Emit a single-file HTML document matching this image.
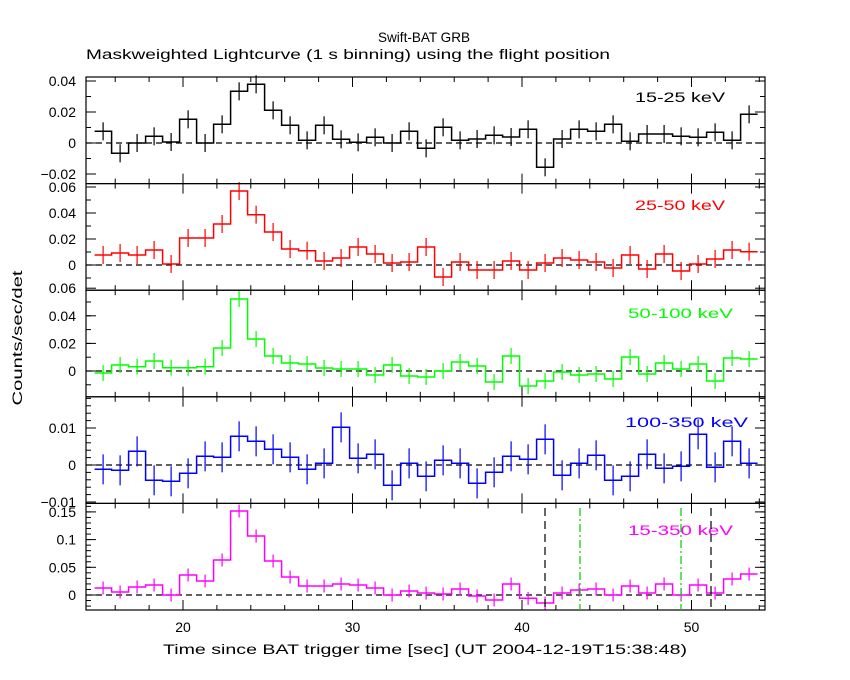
<!DOCTYPE html>
<html><head><meta charset="utf-8">
<style>
html,body{margin:0;padding:0;background:#fff;}
svg{display:block;font-family:"Liberation Sans",sans-serif;}
</style></head>
<body>
<svg id="s" width="850" height="680" xmlns="http://www.w3.org/2000/svg">
<rect width="850" height="680" fill="#fff"/>
<text x="378" y="42" font-size="14" textLength="92" lengthAdjust="spacingAndGlyphs">Swift-BAT GRB</text>
<text x="86" y="59" font-size="14" textLength="524" lengthAdjust="spacingAndGlyphs">Maskweighted Lightcurve (1 s binning) using the flight position</text>
<text x="22" y="338" font-size="14" text-anchor="middle" transform="rotate(-90 22 338)" textLength="135" lengthAdjust="spacingAndGlyphs">Counts/sec/det</text>
<text x="163" y="654" font-size="14" textLength="524" lengthAdjust="spacingAndGlyphs">Time since BAT trigger time [sec] (UT 2004-12-19T15:38:48)</text>
</svg>
<script>
const S=document.getElementById('s');const NS='http://www.w3.org/2000/svg';
function el(t,a,txt){const e=document.createElementNS(NS,t);for(const k in a)e.setAttribute(k,a[k]);if(txt!==undefined)e.textContent=txt;S.appendChild(e);return e;}
const L=86,R=765;
const tops=[77,183.6,290.2,396.8,503.4,610];
const xOf=t=>183+(t-20)*16.95;
const panels=[
 {col:'#000',zero:143,err:9,lab:'15-25 keV',lx:635,ly:102,lw:90,
  v:[184,250,219,199,216,148,219,163,64,43,121,166,211,166,208,217,202,219,184,235,172,211,207,196,201,178,292,207,178,184,163,214,192,192,199,202,187,211,133],zz:219,
  ticks:{px:15.5,min:-0.02,max:0.045,labs:[[0.04,'0.04'],[0.02,'0.02'],[0,'0'],[-0.02,'\u22120.02']],per:0.01}},
 {col:'#f00',zero:265,err:9,lab:'25-50 keV',lx:635,ly:210,lw:90,
  v:[226,220,226,211,253,175,175,133,34,105,157,208,213,244,235,202,223,250,247,202,292,247,271,271,244,271,250,235,241,247,265,226,268,223,274,253,238,211,216],zz:256,
  ticks:{per:0.01,px:13,min:-0.01,max:0.065,labs:[[0.06,'0.06'],[0.04,'0.04'],[0.02,'0.02'],[0,'0']]}},
 {col:'#0f0',zero:371,err:8,lab:'50-100 keV',lx:628,ly:318,lw:105,
  v:[262,238,243,226,246,246,243,187,40,160,211,232,235,247,250,250,268,238,271,274,256,229,241,289,211,301,286,259,268,265,280,214,265,232,250,235,286,217,220],zz:256,
  ticks:{per:0.01,px:13.8,min:-0.01,max:0.06,labs:[[0.06,'0.06'],[0.04,'0.04'],[0.02,'0.02'],[0,'0']]}},
 {col:'#00f',zero:465,err:15,lab:'100-350 keV',lx:625,ly:427,lw:123,
  v:[229,232,175,262,265,241,190,193,130,145,169,193,229,211,103,196,184,277,211,250,202,211,271,238,190,199,139,247,211,187,262,250,184,226,220,124,223,145,211],zz:216,
  ticks:{per:0.002,px:7.4,min:-0.01,max:0.0185,labs:[[0.01,'0.01'],[0,'0'],[-0.01,'\u22120.01']]}},
 {col:'#f0f',zero:595,err:6.5,lab:'15-350 keV',lx:628,ly:535,lw:105,
  v:[265,277,262,256,286,226,244,181,34,109,184,232,259,259,253,256,265,286,274,280,283,268,289,301,253,296,310,280,271,268,286,259,280,253,286,256,280,238,223],zz:286,
  ticks:{per:0.01,px:5.54,min:-0.02,max:0.16,labs:[[0.15,'0.15'],[0.1,'0.1'],[0.05,'0.05'],[0,'0']]}}
];
panels.forEach((p,i)=>{
 const top=tops[i],bot=tops[i+1];
 el('line',{x1:L,x2:R,y1:p.zero,y2:p.zero,stroke:'#000','stroke-width':1.2,'stroke-dasharray':'6,4'});
 let d='';const w=17.0,x0=94.6;
 p.v.forEach((zy,j)=>{const y=p.zero+(zy-p.zz)/3;const xa=x0+w*j,xb=xa+w;
  d+=(j==0?'M':'L')+xa.toFixed(1)+' '+y.toFixed(1)+' L'+xb.toFixed(1)+' '+y.toFixed(1)+' ';
  const xc=xa+w/2;el('line',{x1:xc,x2:xc,y1:y-p.err,y2:y+p.err,stroke:p.col,'stroke-width':1.2});});
 el('path',{d:d,fill:'none',stroke:p.col,'stroke-width':1.5});
 const t=p.ticks;const n0=Math.ceil(t.min/t.per-1e-6),n1=Math.floor(t.max/t.per+1e-6);
 for(let k=n0;k<=n1;k++){const y=p.zero-k*t.px;if(y<top-0.5||y>bot+0.5)continue;
  el('line',{x1:L,x2:L+5,y1:y,y2:y,stroke:'#000'});el('line',{x1:R,x2:R-5,y1:y,y2:y,stroke:'#000'});}
 t.labs.forEach(([v,s])=>{const y=p.zero-v/t.per*t.px;
  el('line',{x1:L,x2:L+10,y1:y,y2:y,stroke:'#000'});el('line',{x1:R,x2:R-10,y1:y,y2:y,stroke:'#000'});
  el('text',{x:76,y:y+5,'font-size':14,'text-anchor':'end'},s);});
 for(let tt=16;tt<=54;tt+=2){const x=xOf(tt);const big=(tt%10==0)?10:5;
  el('line',{x1:x,x2:x,y1:top,y2:top+big,stroke:'#000'});el('line',{x1:x,x2:x,y1:bot,y2:bot-big,stroke:'#000'});}
 el('text',{x:p.lx,y:p.ly,'font-size':14,fill:p.col,textLength:p.lw,lengthAdjust:'spacingAndGlyphs'},p.lab);
 el('rect',{x:L,y:top,width:R-L,height:bot-top,fill:'none',stroke:'#000','stroke-width':1.2});
});
[[545,'#000','8,5'],[711,'#000','8,5'],[580,'#0c0','8,3,2,3'],[681,'#0c0','8,3,2,3']].forEach(([x,c,da])=>{
 el('line',{x1:x,x2:x,y1:508,y2:610,stroke:c,'stroke-width':1.2,'stroke-dasharray':da});});
[[20,'20'],[30,'30'],[40,'40'],[50,'50']].forEach(([t,s])=>el('text',{x:xOf(t),y:632,'font-size':14,'text-anchor':'middle'},s));
</script>
</body></html>
